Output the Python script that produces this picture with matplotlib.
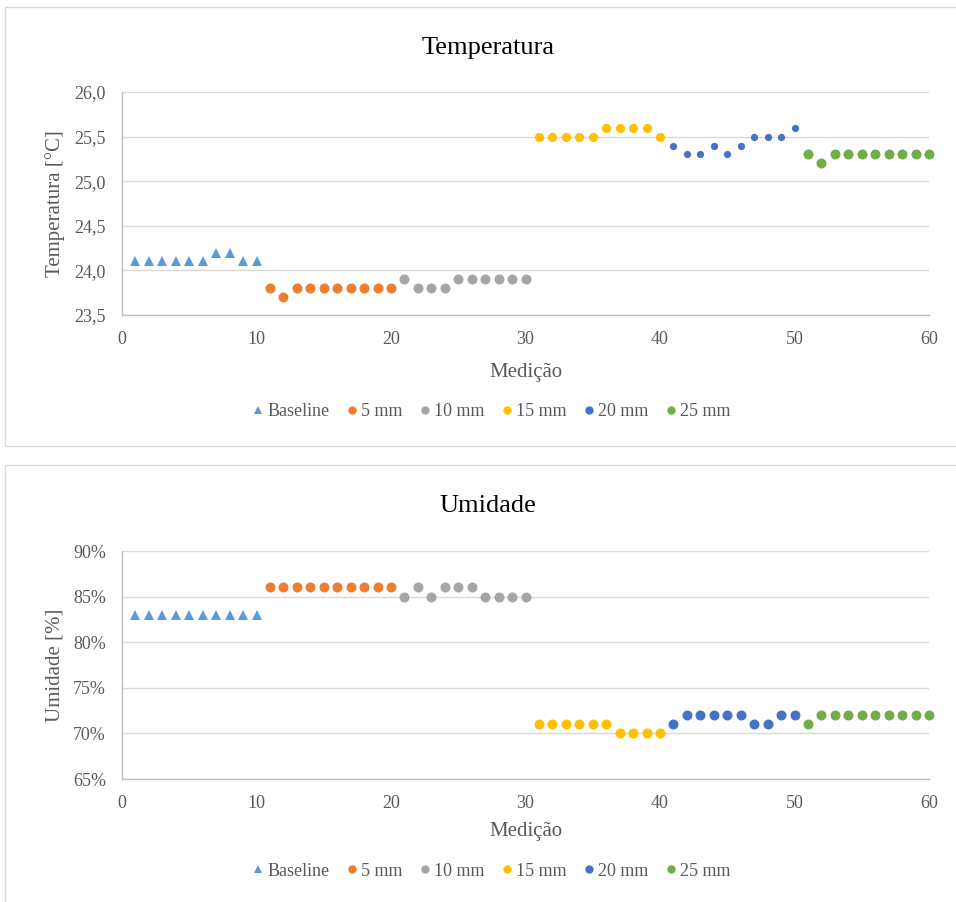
import matplotlib
matplotlib.use("Agg")
import matplotlib.pyplot as plt
from matplotlib.patches import Rectangle
from matplotlib.lines import Line2D
from matplotlib.ticker import FuncFormatter, MultipleLocator
import numpy as np

plt.rcParams['font.family'] = ['Liberation Serif', 'DejaVu Serif']

series_names = ["Baseline", "5 mm", "10 mm", "15 mm", "20 mm", "25 mm"]
series_colors = ["#5B9BD5", "#ED7D31", "#A5A5A5", "#FFC000", "#4472C4", "#70AD47"]
series_markers = ["^", "o", "o", "o", "o", "o"]
medicao = np.arange(1, 61)

temperatura = [
    [24.1, 24.1, 24.1, 24.1, 24.1, 24.1, 24.2, 24.2, 24.1, 24.1],
    [23.8, 23.7, 23.8, 23.8, 23.8, 23.8, 23.8, 23.8, 23.8, 23.8],
    [23.9, 23.8, 23.8, 23.8, 23.9, 23.9, 23.9, 23.9, 23.9, 23.9],
    [25.5, 25.5, 25.5, 25.5, 25.5, 25.6, 25.6, 25.6, 25.6, 25.5],
    [25.4, 25.3, 25.3, 25.4, 25.3, 25.4, 25.5, 25.5, 25.5, 25.6],
    [25.3, 25.2, 25.3, 25.3, 25.3, 25.3, 25.3, 25.3, 25.3, 25.3],
]

umidade = [
    [0.83, 0.83, 0.83, 0.83, 0.83, 0.83, 0.83, 0.83, 0.83, 0.83],
    [0.86, 0.86, 0.86, 0.86, 0.86, 0.86, 0.86, 0.86, 0.86, 0.86],
    [0.85, 0.86, 0.85, 0.86, 0.86, 0.86, 0.85, 0.85, 0.85, 0.85],
    [0.71, 0.71, 0.71, 0.71, 0.71, 0.71, 0.70, 0.70, 0.70, 0.70],
    [0.71, 0.72, 0.72, 0.72, 0.72, 0.72, 0.71, 0.71, 0.72, 0.72],
    [0.71, 0.72, 0.72, 0.72, 0.72, 0.72, 0.72, 0.72, 0.72, 0.72],
]

temp_marker_sizes = [7.5, 7.2, 7.2, 6.6, 5.2, 7.2]
umid_marker_sizes = [7.5, 7.2, 7.2, 7.2, 7.2, 7.2]

W, H = 956, 902
fig = plt.figure(figsize=(W / 100, H / 100), dpi=100)


def fx(px):
    return px / W


def fy(py):
    return 1 - py / H


# chart frames
for top, bottom in [(7, 446), (465, 906)]:
    fig.patches.append(Rectangle((fx(4.5), fy(bottom)), fx(975) - fx(4.5), fy(top) - fy(bottom),
                                 transform=fig.transFigure, fill=False,
                                 edgecolor="#D9D9D9", linewidth=1.0))

grid_c = "#D9D9D9"
axis_c = "#BFBFBF"
text_c = "#595959"


def style_axes(ax, xlabel_baseline_px, ax_bottom_px, ax_height_px):
    ax.set_xlim(0, 60)
    ax.xaxis.set_major_locator(MultipleLocator(10))
    ax.grid(axis="y", color=grid_c, linewidth=1.0)
    ax.set_axisbelow(True)
    for s in ["top", "right"]:
        ax.spines[s].set_visible(False)
    for s in ["left", "bottom"]:
        ax.spines[s].set_color(axis_c)
        ax.spines[s].set_linewidth(1.0)
    ax.tick_params(axis="both", length=0, labelsize=13, colors=text_c)
    ax.tick_params(axis="x", pad=11.5)
    ax.tick_params(axis="y", pad=11.5)
    ax.set_xlabel("Medição", fontsize=15, color=text_c)
    ax.xaxis.label.set_va("baseline")
    ax.xaxis.set_label_coords(0.5, -(xlabel_baseline_px - ax_bottom_px) / ax_height_px)
    ax.yaxis.label.set_va("center")
    ax.yaxis.set_label_coords((55 - 122) / 807, 0.5)


def draw_panel(ax, data, sizes):
    for i, (name, color, mk) in enumerate(zip(series_names, series_colors, series_markers)):
        xs = medicao[i * 10:(i + 1) * 10]
        ax.plot(xs, data[i], linestyle="none", marker=mk, color=color,
                markersize=sizes[i], markeredgewidth=0, label=name, clip_on=False)


def add_legend(ax, center_y_px):
    handles = [Line2D([], [], linestyle="none", marker=mk, color=c, markersize=6.0,
                      markeredgewidth=0)
               for c, mk in zip(series_colors, series_markers)]
    leg = ax.legend(handles, series_names, loc="center",
                    bbox_to_anchor=(fx(491), fy(center_y_px)), bbox_transform=fig.transFigure,
                    ncol=6, frameon=False, fontsize=13, handletextpad=0.1,
                    columnspacing=0.85, handlelength=0.8, borderpad=0)
    for t in leg.get_texts():
        t.set_color(text_c)


# Temperatura
ax1 = fig.add_axes([fx(122), fy(315), fx(929) - fx(122), fy(92) - fy(315)])
style_axes(ax1, 377, 315, 223)
draw_panel(ax1, temperatura, temp_marker_sizes)
ax1.set_ylim(23.5, 26.0)
ax1.yaxis.set_major_locator(MultipleLocator(0.5))
ax1.yaxis.set_major_formatter(FuncFormatter(lambda v, p: f"{v:.1f}".replace(".", ",")))
ax1.set_ylabel("Temperatura [°C]", fontsize=15, color=text_c)
fig.text(fx(488), fy(54), "Temperatura", ha="center", va="baseline", fontsize=19, color="#000000")
add_legend(ax1, 412)

# Umidade
ax2 = fig.add_axes([fx(122), fy(779), fx(929) - fx(122), fy(551) - fy(779)])
style_axes(ax2, 836, 779, 228)
draw_panel(ax2, umidade, umid_marker_sizes)
ax2.set_ylim(0.65, 0.90)
ax2.yaxis.set_major_locator(MultipleLocator(0.05))
ax2.yaxis.set_major_formatter(FuncFormatter(lambda v, p: f"{v * 100:.0f}%"))
ax2.set_ylabel("Umidade [%]", fontsize=15, color=text_c)
fig.text(fx(488), fy(512), "Umidade", ha="center", va="baseline", fontsize=19, color="#000000")
add_legend(ax2, 871)

fig.savefig("out.png", dpi=100, facecolor="white")
